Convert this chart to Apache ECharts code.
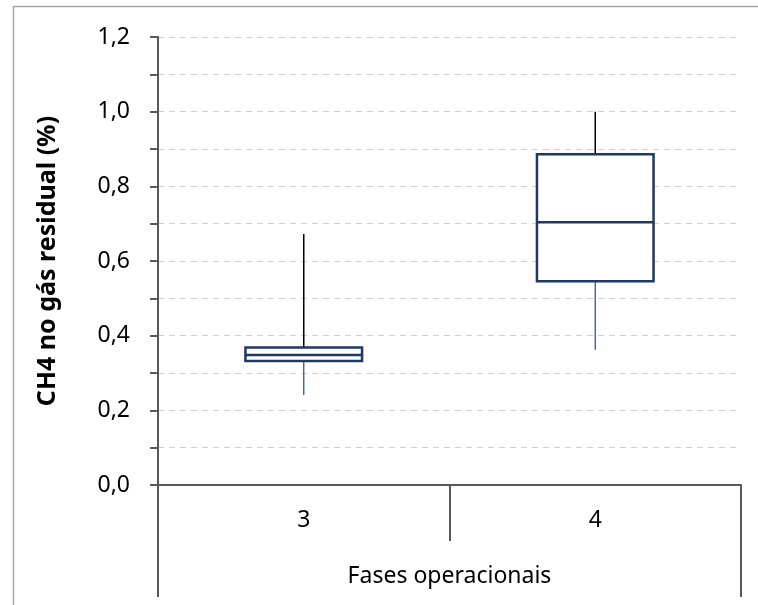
<!DOCTYPE html>
<html>
<head>
<meta charset="utf-8">
<script src="https://cdn.jsdelivr.net/npm/echarts@6/dist/echarts.min.js"></script>
<style>
  html, body { margin: 0; padding: 0; background: #ffffff; }
  #chart { width: 758px; height: 605px; }
</style>
</head>
<body>
<div id="chart"></div>
<script>
// Operational phases on the category axis
var phases = ['3', '4'];
// Box statistics per phase: minimum, first quartile, median, third quartile, maximum
var whiskerLow  = [0.241, 0.362];
var quartile1   = [0.332, 0.546];
var medians     = [0.348, 0.704];
var quartile3   = [0.368, 0.886];
var whiskerHigh = [0.672, 1.000];
// Value axis labels (every other gridline carries a label)
var yTickLabels = ['0,0', '0,2', '0,4', '0,6', '0,8', '1,0', '1,2'];

var FONT = 'Noto Sans';
var AXIS_COLOR = '#595959';
var BOX_COLOR = '#1F3864';
var LOW_WHISKER_COLOR = '#2F5597';

var chart = echarts.init(document.getElementById('chart'), null, { renderer: 'canvas' });

var boxData = phases.map(function (p, i) {
  return [i, whiskerLow[i], quartile1[i], medians[i], quartile3[i], whiskerHigh[i]];
});

function renderBox(params, api) {
  var cat = api.value(0);
  var xc = api.coord([cat, 0])[0];
  var band = api.size([1, 0])[0];
  var w = band * 0.4;
  var yMin = api.coord([cat, api.value(1)])[1];
  var yQ1 = api.coord([cat, api.value(2)])[1];
  var yMed = api.coord([cat, api.value(3)])[1];
  var yQ3 = api.coord([cat, api.value(4)])[1];
  var yMax = api.coord([cat, api.value(5)])[1];
  return {
    type: 'group',
    children: [
      { type: 'line', shape: { x1: xc, y1: yQ3, x2: xc, y2: yMax },
        style: { stroke: '#000000', lineWidth: 1.5 } },
      { type: 'line', shape: { x1: xc - 7, y1: yQ3, x2: xc + 7, y2: yQ3 },
        style: { stroke: '#000000', lineWidth: 1.5 } },
      { type: 'line', shape: { x1: xc, y1: yQ1, x2: xc, y2: yMin },
        style: { stroke: LOW_WHISKER_COLOR, lineWidth: 1.3 } },
      { type: 'rect', shape: { x: xc - w / 2, y: yQ3, width: w, height: yQ1 - yQ3 },
        style: { fill: '#ffffff', stroke: BOX_COLOR, lineWidth: 2.5 } },
      { type: 'line', shape: { x1: xc - w / 2, y1: yMed, x2: xc + w / 2, y2: yMed },
        style: { stroke: BOX_COLOR, lineWidth: 2.5 } }
    ]
  };
}

var option = {
  backgroundColor: '#ffffff',
  animation: false,
  grid: { left: 158, right: 17, top: 37, bottom: 120, containLabel: false },
  xAxis: {
    type: 'category',
    data: phases,
    boundaryGap: true,
    name: 'Fases operacionais',
    nameLocation: 'middle',
    nameGap: 80,
    nameTextStyle: { fontFamily: FONT, fontSize: 23, color: '#000000' },
    axisLine: { show: true, lineStyle: { color: AXIS_COLOR, width: 2 } },
    axisTick: { show: true, length: 56, alignWithLabel: false, lineStyle: { color: AXIS_COLOR, width: 2 } },
    axisLabel: { fontFamily: FONT, fontSize: 23, color: '#000000', margin: 24 },
    splitLine: { show: false }
  },
  yAxis: {
    type: 'value',
    min: 0,
    max: 1.2,
    interval: 0.1,
    name: 'CH4 no gás residual (%)',
    nameLocation: 'middle',
    nameGap: 98,
    nameTextStyle: { fontFamily: FONT, fontSize: 25, fontWeight: 'bold', color: '#000000' },
    axisLine: { show: true, lineStyle: { color: AXIS_COLOR, width: 2 } },
    axisTick: { show: true, length: 8, lineStyle: { color: AXIS_COLOR, width: 2 } },
    axisLabel: {
      fontFamily: FONT, fontSize: 23, color: '#000000', margin: 28,
      formatter: function (v) {
        var k = Math.round(v * 10);
        return k % 2 === 0 ? yTickLabels[k / 2] : '';
      }
    },
    splitLine: { show: true, lineStyle: { color: '#D0D0D0', type: [6, 5], width: 1 } }
  },
  series: [{
    type: 'custom',
    renderItem: renderBox,
    encode: { x: 0, y: [1, 2, 3, 4, 5] },
    data: boxData,
    z: 5
  }]
};

chart.setOption(option);

// Outer frame plus the outer category boundaries that run down to the axis title
function addDecorations() {
  var c0 = chart.convertToPixel({ gridIndex: 0 }, [0, 0]);
  var c1 = chart.convertToPixel({ gridIndex: 0 }, [1, 0]);
  var band = c1[0] - c0[0];
  var leftX = c0[0] - band / 2;
  var rightX = c0[0] + band * (phases.length - 0.5);
  var axisY = c0[1];
  var bottom = 597;
  chart.setOption({
    graphic: [
      { type: 'rect', shape: { x: 13.5, y: 6.5, width: 900, height: 900 },
        style: { fill: 'none', stroke: '#A6A6A6', lineWidth: 1.5 }, silent: true },
      { type: 'line', shape: { x1: leftX, y1: axisY, x2: leftX, y2: bottom },
        style: { stroke: AXIS_COLOR, lineWidth: 2 }, silent: true },
      { type: 'line', shape: { x1: rightX, y1: axisY, x2: rightX, y2: bottom },
        style: { stroke: AXIS_COLOR, lineWidth: 2 }, silent: true }
    ]
  });
}
addDecorations();
</script>
</body>
</html>
